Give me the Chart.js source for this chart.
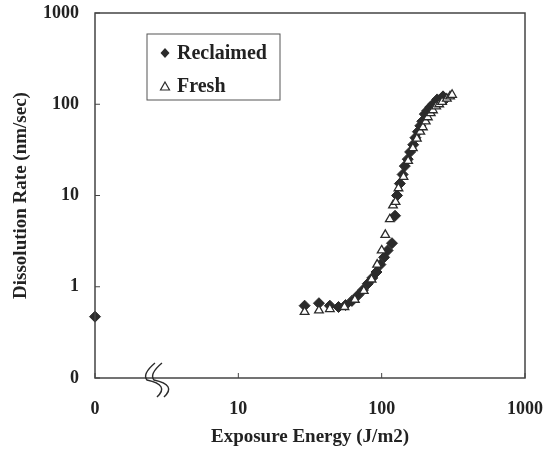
<!DOCTYPE html>
<html>
<head>
<meta charset="utf-8">
<script src="https://cdn.jsdelivr.net/npm/chart.js@4.4.1/dist/chart.umd.min.js"></script>
<style>
  html, body { margin: 0; padding: 0; background: #fff; }
  #wrap { width: 556px; height: 452px; }
</style>
</head>
<body>
<div id="wrap"><canvas id="chart" width="556" height="452"></canvas></div>
<script>
// Exposure energy (J/m2) and dissolution rate (nm/sec)
const reclaimedEnergy = [1, 29, 36.5, 43.5, 50, 56, 62, 68, 74, 80, 86, 92, 98, 104, 110, 118,
  124, 128, 134, 140, 145, 152, 158, 166, 172, 179, 186, 192, 200, 208, 218, 228, 244, 256, 268, 280];
const reclaimedRate = [0.47, 0.62, 0.66, 0.62, 0.6, 0.63, 0.7, 0.8, 0.92, 1.08, 1.25, 1.45, 1.75, 2.1, 2.5, 3.0,
  6.0, 10, 13.5, 17, 21, 25, 30, 36, 43, 50, 58, 65, 78, 85, 93, 100, 113, 110, 122, 115];

const freshEnergy = [29, 36.5, 43.5, 55, 65, 75, 85, 93, 100, 106, 114, 120, 125, 131, 142, 153,
  165, 176, 186, 194, 203, 210, 220, 228, 240, 252, 264, 285, 300, 310];
const freshRate = [0.53, 0.55, 0.57, 0.6, 0.72, 0.9, 1.2, 1.75, 2.5, 3.7, 5.5, 7.8, 8.5, 12, 16, 24,
  33, 42, 50, 56, 65, 72, 80, 86, 95, 100, 106, 115, 122, 127];

// decade ticks; the lowest decade is printed as "0" (axis break)
const xTicks = [1, 10, 100, 1000];
const xTickLabels = ['0', '10', '100', '1000'];
const yTicks = [0.1, 1, 10, 100, 1000];
const yTickLabels = ['0', '1', '10', '100', '1000'];

const INK = '#2b2b2b';
const FONT = '"Liberation Serif", "Times New Roman", serif';

const toPoints = (xs, ys) => xs.map((x, i) => ({ x: x, y: ys[i] }));

// frame, inward ticks, axis break and legend box
const decorations = {
  id: 'decorations',
  afterDraw(chart) {
    const ctx = chart.ctx;
    const a = chart.chartArea;
    const xs = chart.scales.x, ys = chart.scales.y;
    ctx.save();
    ctx.strokeStyle = '#444';
    ctx.lineWidth = 1.5;
    ctx.strokeRect(a.left, a.top, a.right - a.left, a.bottom - a.top);

    ctx.lineWidth = 1;
    xTicks.forEach(v => {
      const px = xs.getPixelForValue(v);
      ctx.beginPath(); ctx.moveTo(px, a.bottom); ctx.lineTo(px, a.bottom - 5); ctx.stroke();
    });
    yTicks.forEach(v => {
      const py = ys.getPixelForValue(v);
      ctx.beginPath(); ctx.moveTo(a.left, py); ctx.lineTo(a.left + 5, py); ctx.stroke();
    });

    // axis break: two S strokes across the x axis
    const bx = xs.getPixelForValue(2.75);
    const by = a.bottom;
    ctx.strokeStyle = INK;
    ctx.lineWidth = 1.4;
    [0, 7].forEach(dx => {
      const x0 = bx + dx;
      ctx.beginPath();
      ctx.moveTo(x0 - 3, by - 15);
      ctx.quadraticCurveTo(x0 - 16, by - 4, x0 - 11, by + 2);
      ctx.quadraticCurveTo(x0 + 12, by + 7, x0 - 1, by + 19);
      ctx.stroke();
    });

    // legend
    const lx = 147, ly = 34, lw = 133, lh = 66;
    ctx.strokeStyle = '#555';
    ctx.lineWidth = 1;
    ctx.strokeRect(lx, ly, lw, lh);
    ctx.fillStyle = INK;
    ctx.beginPath();
    ctx.moveTo(165, 48); ctx.lineTo(169.5, 53); ctx.lineTo(165, 58); ctx.lineTo(160.5, 53); ctx.closePath();
    ctx.fill();
    ctx.strokeStyle = INK;
    ctx.lineWidth = 1.2;
    ctx.beginPath();
    ctx.moveTo(165, 82); ctx.lineTo(169.5, 90); ctx.lineTo(160.5, 90); ctx.closePath();
    ctx.stroke();
    ctx.fillStyle = '#222';
    ctx.font = 'bold 20px ' + FONT;
    ctx.textBaseline = 'middle';
    ctx.textAlign = 'left';
    ctx.fillText('Reclaimed', 177, 54);
    ctx.fillText('Fresh', 177, 87);
    ctx.restore();
  }
};

new Chart(document.getElementById('chart'), {
  type: 'scatter',
  data: {
    datasets: [
      {
        label: 'Fresh',
        data: toPoints(freshEnergy, freshRate),
        pointStyle: 'triangle',
        pointRadius: 5,
        backgroundColor: '#fff',
        borderColor: INK,
        borderWidth: 1.3,
        clip: false
      },
      {
        label: 'Reclaimed',
        data: toPoints(reclaimedEnergy, reclaimedRate),
        pointStyle: 'rectRot',
        pointRadius: 5.5,
        backgroundColor: INK,
        borderColor: INK,
        borderWidth: 1,
        clip: false
      }
    ]
  },
  options: {
    responsive: false,
    animation: false,
    layout: { padding: { left: 0, top: 13, right: 31, bottom: 0 } },
    plugins: { legend: { display: false }, tooltip: { enabled: false } },
    scales: {
      x: {
        type: 'logarithmic',
        min: 1,
        max: 1000,
        afterBuildTicks: s => { s.ticks = xTicks.map(v => ({ value: v })); },
        afterFit: s => { s.height = 74; s.paddingLeft = 0; s.paddingRight = 0; },
        grid: { display: false, drawTicks: false },
        border: { display: false },
        ticks: {
          color: '#222',
          font: { family: FONT, size: 18, weight: 'bold' },
          padding: 21,
          maxRotation: 0,
          autoSkip: false,
          callback: v => xTickLabels[xTicks.indexOf(v)]
        },
        title: {
          display: true,
          text: 'Exposure Energy (J/m2)',
          color: '#222',
          font: { family: FONT, size: 19, weight: 'bold' },
          padding: { top: 0, bottom: 4 }
        }
      },
      y: {
        type: 'logarithmic',
        min: 0.1,
        max: 1000,
        afterBuildTicks: s => { s.ticks = yTicks.map(v => ({ value: v })); },
        afterFit: s => { s.width = 95; s.paddingTop = 0; s.paddingBottom = 0; },
        grid: { display: false, drawTicks: false },
        border: { display: false },
        ticks: {
          color: '#222',
          font: { family: FONT, size: 18, weight: 'bold' },
          padding: 16,
          autoSkip: false,
          callback: v => yTickLabels[yTicks.indexOf(v)]
        },
        title: {
          display: true,
          text: 'Dissolution Rate (nm/sec)',
          color: '#222',
          font: { family: FONT, size: 19, weight: 'bold' },
          padding: { top: 10, bottom: 0 }
        }
      }
    }
  },
  plugins: [decorations]
});
</script>
</body>
</html>
